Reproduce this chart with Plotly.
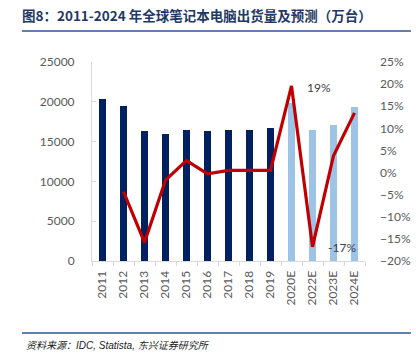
import plotly.graph_objects as go

categories = ["2011", "2012", "2013", "2014", "2015", "2016", "2017", "2018", "2019",
              "2020E", "2022E", "2023E", "2024E"]
shipments = [20400, 19500, 16300, 16000, 16500, 16300, 16500, 16500, 16700,
             19900, 16500, 17100, 19400]
growth = [None, -4.3, -15.8, -1.7, 2.7, -0.3, 0.5, 0.5, 0.5, 19.6, -16.8, 3.8, 13.5]
bar_colors = ["#002060"] * 9 + ["#9DC3E6"] * 4
labels = {"2020E": "19%", "2022E": "-17%"}

title = "图8：2011-2024 年全球笔记本电脑出货量及预测（万台）"
source = "资料来源：IDC, Statista, 东兴证券研究所"

W, H = 416, 353
ML, MR, MT, MB = 92, 51, 62, 92
PW, PH = W - ML - MR, H - MT - MB


def px(x):
    return (x - ML) / PW


def py(y):
    return (H - MB - y) / PH


fig = go.Figure()
fig.add_trace(go.Bar(x=categories, y=shipments, marker_color=bar_colors,
                     marker_line_width=0, width=0.36, yaxis="y", showlegend=False))
fig.add_trace(go.Scatter(x=categories, y=growth, mode="lines",
                         line=dict(color="#C00000", width=3.2), yaxis="y2",
                         showlegend=False))

tick_font = dict(family="Lato, Open Sans, sans-serif", size=12, color="#595959")

fig.update_layout(
    width=W, height=H,
    margin=dict(l=ML, r=MR, t=MT, b=MB, autoexpand=False),
    paper_bgcolor="white", plot_bgcolor="white",
    title=dict(text="<b>" + title + "</b>", xref="container", yref="container",
               x=22 / W, xanchor="left", y=1 - 16 / H, yanchor="middle",
               font=dict(family="Noto Sans CJK SC", size=13.5, color="#1F3864")),
    xaxis=dict(tickangle=-90, tickfont=tick_font, showgrid=False, automargin=False,
               showline=True, linecolor="#D9D9D9", linewidth=1,
               ticks="outside", tickson="boundaries", ticklen=4, tickcolor="#D9D9D9",
               ticklabelstandoff=4),
    yaxis=dict(range=[0, 25000], dtick=5000, tickformat="d", tickfont=tick_font,
               showgrid=False, automargin=False,
               showline=True, linecolor="#D9D9D9", linewidth=1,
               ticks="inside", ticklen=4, tickcolor="#D9D9D9",
               ticklabelstandoff=14, zeroline=False),
    yaxis2=dict(range=[-20, 25], dtick=5, ticksuffix="%", overlaying="y", side="right",
                tickfont=tick_font, showgrid=False, showline=False, zeroline=False,
                automargin=False, ticklabelstandoff=14),
    bargap=0,
)

for cat, txt in labels.items():
    i = categories.index(cat)
    fig.add_annotation(x=cat, y=growth[i], yref="y2", text=txt, showarrow=False,
                       xshift=27 if txt == "19%" else 29,
                       yshift=-2 if txt == "19%" else -1,
                       font=dict(family="Lato, Open Sans, sans-serif", size=12, color="#404040"))

fig.add_annotation(xref="paper", yref="paper", x=px(24), y=py(345), xanchor="left", yanchor="middle",
                   text="<i>" + source + "</i>", showarrow=False,
                   font=dict(family="Liberation Sans, Noto Sans CJK SC", size=10, color="#222222"))

fig.add_shape(type="line", xref="paper", yref="paper", x0=px(22), x1=px(411), y0=py(31), y1=py(31),
              line=dict(color="#2F5597", width=1.5))
fig.add_shape(type="line", xref="paper", yref="paper", x0=px(22), x1=px(411), y0=py(333), y1=py(333),
              line=dict(color="#2F5597", width=1.5))

fig.write_html("out.html")
